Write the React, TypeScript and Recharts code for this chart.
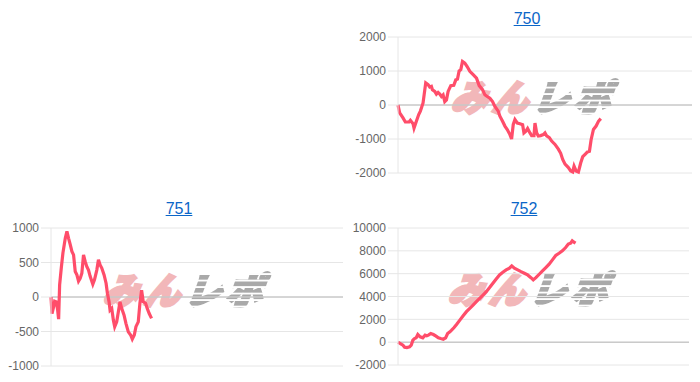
import React from 'react'
import { LineChart, Line, XAxis, YAxis, CartesianGrid, ReferenceLine } from 'recharts'

const LINE_COLOR = '#ff4d6a'
const GRID_COLOR = '#e6e6e6'
const ZERO_COLOR = '#b8b8b8'
const FONT = '"Liberation Sans", Arial, Helvetica, sans-serif'
const GAME_MAX = 8800

// 750
const games750 = [
	0, 50, 150, 220, 330, 370, 450, 480, 550, 620, 670, 750, 830, 900, 950, 1000, 1030, 1100, 1150, 1200,
	1250, 1300, 1350, 1400, 1450, 1500, 1580, 1670, 1730, 1780, 1830, 1880, 1930, 2000, 2070, 2150, 2250,
	2350, 2430, 2530, 2600, 2670, 2750, 2830, 2900, 3000, 3050, 3130, 3200, 3270, 3350, 3400, 3450, 3500,
	3570, 3650, 3730, 3770, 3830, 3880, 3950, 4000, 4070, 4100, 4150, 4200, 4270, 4350, 4400, 4450, 4530,
	4600, 4700, 4800, 4870, 4930, 5000, 5100, 5170, 5230, 5270, 5330, 5400, 5470, 5530, 5600, 5670, 5730,
	5780, 5850, 5930, 6000, 6070,
]
const diff750 = [
	0, -230, -380, -500, -500, -450, -550, -680, -480, -280, -180, 60, 650, 600, 530, 550, 450, 400, 320, 370,
	320, 250, 300, 100, 150, 400, 570, 580, 740, 760, 1000, 1040, 1280, 1230, 1130, 990, 890, 790, 570, 450,
	300, 250, 200, 100, -40, -180, -330, -480, -620, -720, -870, -1000, -570, -430, -530, -550, -580, -820,
	-770, -690, -820, -900, -900, -530, -820, -910, -900, -870, -820, -910, -960, -1060, -1160, -1300, -1420,
	-1600, -1740, -1840, -1940, -1970, -1800, -1940, -1970, -1700, -1520, -1450, -1380, -1360, -1020, -720,
	-620, -480, -400,
]
const ticks750 = [-2000, -1000, 0, 1000, 2000]

// 751
const games751 = [
	0, 30, 80, 110, 160, 200, 230, 260, 310, 360, 430, 480, 530, 580, 630, 680, 730, 780, 830, 880, 930, 980,
	1030, 1080, 1130, 1180, 1260, 1310, 1380, 1430, 1480, 1530, 1600, 1660, 1700, 1750, 1780, 1830, 1880,
	1920, 1980, 2030, 2080, 2130, 2200, 2260, 2330, 2400, 2450, 2510, 2560, 2630, 2680, 2730, 2780, 2850,
	2900, 2960, 3030,
]
const diff751 = [
	0, -240, -140, -60, -70, -190, -320, 175, 420, 640, 850, 950, 850, 760, 660, 610, 370, 320, 230, 270, 345,
	610, 515, 440, 390, 300, 185, 250, 390, 540, 465, 420, 320, 200, 55, -70, -190, -165, -335, -430, -360,
	-215, -70, -165, -260, -385, -505, -550, -610, -550, -430, -360, -90, 100, -70, -90, -165, -240, -310,
]
const ticks751 = [-1000, -500, 0, 500, 1000]

// 752
const games752 = [
	0, 70, 150, 200, 270, 350, 400, 450, 500, 550, 600, 670, 750, 820, 870, 920, 990, 1070, 1150, 1220, 1290,
	1370, 1440, 1500, 1570, 1620, 1690, 1770, 1870, 1970, 2070, 2170, 2270, 2370, 2470, 2570, 2670, 2770,
	2870, 2970, 3070, 3170, 3270, 3370, 3440, 3520, 3620, 3720, 3820, 3920, 4020, 4090, 4170, 4270, 4370,
	4470, 4570, 4670, 4770, 4870, 4970, 5070, 5150, 5220, 5270, 5320, 5370,
]
const diff752 = [
	0, -120, -260, -440, -470, -410, -260, 175, 320, 380, 670, 470, 380, 615, 560, 615, 760, 670, 530, 380,
	320, 260, 380, 760, 910, 1050, 1260, 1550, 1930, 2310, 2670, 2960, 3250, 3545, 3840, 4130, 4420, 4780,
	5160, 5540, 5890, 6120, 6330, 6475, 6680, 6475, 6330, 6180, 6040, 5890, 5650, 5450, 5650, 5950, 6240,
	6530, 6830, 7210, 7590, 7790, 8000, 8290, 8590, 8670, 8880, 8760, 8670,
]
const ticks752 = [-2000, 0, 2000, 4000, 6000, 8000, 10000]

interface IPanel {
	title: string
	games: number[]
	diffs: number[]
	ticks: number[]
	left: number
	top: number
	yWidth: number
	marginRight: number
	plotHeight: number
	titleX: number
	titleTop: number
	logoX: number
	logoY: number
}

// watermark: pink "みん" + striped grey "レポ"
const Logo: React.FC<{ x: number; y: number }> = ({ x, y }) => (
	<div
		style={{
			position: 'absolute',
			left: x,
			top: y,
			fontFamily: '"Noto Sans CJK JP", sans-serif',
			fontWeight: 900,
			fontSize: 36,
			lineHeight: '36px',
			letterSpacing: 5,
			whiteSpace: 'nowrap',
			transform: 'skewX(-20deg)',
			pointerEvents: 'none',
		}}
	>
		<span style={{ color: '#f2b7b9', WebkitTextStroke: '3px #f2b7b9' }}>みん</span>
		<span
			style={{
				color: 'transparent',
				WebkitTextStroke: '3px transparent',
				backgroundImage:
					'repeating-linear-gradient(180deg, #a9a9a9 0px, #a9a9a9 5px, transparent 5px, transparent 6.5px)',
				WebkitBackgroundClip: 'text',
				backgroundClip: 'text',
			}}
		>
			レポ
		</span>
	</div>
)

const Panel: React.FC<{ p: IPanel }> = ({ p }) => {
	const data = p.games.map((g, i) => ({ g, v: p.diffs[i] }))
	const lo = p.ticks[0]
	const hi = p.ticks[p.ticks.length - 1]

	return (
		<>
			<a
				href="#"
				style={{
					position: 'absolute',
					left: p.titleX - 50,
					width: 100,
					top: p.titleTop,
					textAlign: 'center',
					fontFamily: FONT,
					fontSize: 16,
					lineHeight: '18px',
					color: '#0b66c8',
					textDecoration: 'underline',
				}}
			>
				{p.title}
			</a>
			<Logo x={p.logoX} y={p.logoY} />
			<div style={{ position: 'absolute', left: p.left, top: p.top }}>
				<LineChart
					width={350}
					height={p.plotHeight + 17}
					data={data}
					margin={{ top: 7, right: p.marginRight, bottom: 10, left: 0 }}
				>
					<CartesianGrid vertical={false} stroke={GRID_COLOR} />
					<XAxis type="number" dataKey="g" domain={[0, GAME_MAX]} hide />
					<YAxis
						type="number"
						domain={[lo, hi]}
						ticks={p.ticks}
						interval={0}
						width={p.yWidth}
						tickSize={10}
						tickMargin={2}
						axisLine={{ stroke: GRID_COLOR }}
						tickLine={{ stroke: GRID_COLOR }}
						tick={{ fill: '#666', fontSize: 12, fontFamily: FONT }}
					/>
					<ReferenceLine y={0} stroke={ZERO_COLOR} />
					<Line
						type="linear"
						dataKey="v"
						stroke={LINE_COLOR}
						strokeWidth={3.2}
						dot={false}
						isAnimationActive={false}
					/>
				</LineChart>
			</div>
		</>
	)
}

const panels: IPanel[] = [
	{
		title: '750', games: games750, diffs: diff750, ticks: ticks750,
		left: 350, top: 30, yWidth: 48, marginRight: 8, plotHeight: 136,
		titleX: 527, titleTop: 10, logoX: 456, logoY: 77,
	},
	{
		title: '751', games: games751, diffs: diff751, ticks: ticks751,
		left: 0, top: 221, yWidth: 51, marginRight: 7, plotHeight: 138,
		titleX: 179, titleTop: 200, logoX: 108, logoY: 270,
	},
	{
		title: '752', games: games752, diffs: diff752, ticks: ticks752,
		left: 350, top: 221, yWidth: 48, marginRight: 11, plotHeight: 137,
		titleX: 524, titleTop: 200, logoX: 453, logoY: 269,
	},
]

const App: React.FC = () => (
	<div style={{ position: 'absolute', left: 0, top: 0, width: 700, height: 382, background: '#fff', overflow: 'hidden' }}>
		{panels.map((p) => (
			<Panel key={p.title} p={p} />
		))}
	</div>
)

export default App
